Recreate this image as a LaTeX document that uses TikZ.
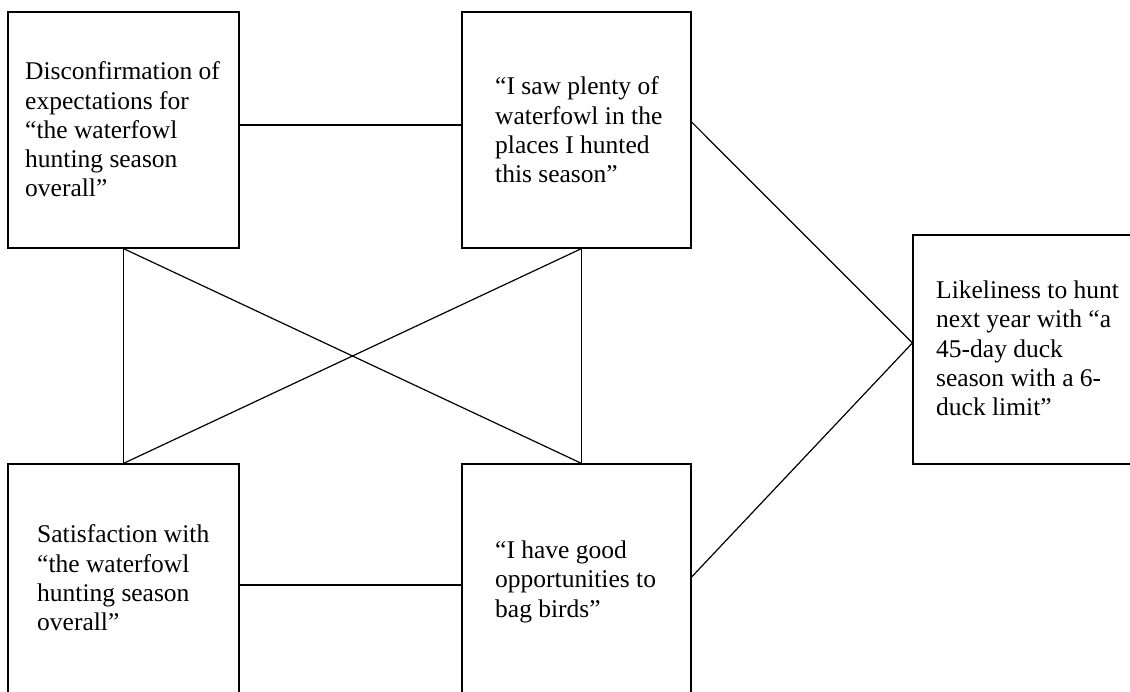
\documentclass[tikz,border=0pt]{standalone}
\usepackage{fontspec}
\setmainfont{Liberation Serif}
\usetikzlibrary{calc}
\begin{document}
\begin{tikzpicture}[x=1pt,y=-1pt,
  box/.style={draw,line width=1.2pt,minimum width=#1,inner sep=0pt},
  lbl/.style={anchor=north west,inner sep=0pt,align=left,font=\fontsize{25.5}{29.3}\selectfont},
  conn/.style={line width=1.2pt}]
\useasboundingbox (0,0) rectangle (1130,692);
\clip (0,0) rectangle (1130,692);
% boxes
\node[box=231pt,minimum height=236pt] (A) at (123.5,130) {};
\node[box=229pt,minimum height=236pt] (B) at (576.5,130) {};
\node[box=231pt,minimum height=242pt] (C) at (123.5,585) {};
\node[box=229pt,minimum height=242pt] (D) at (576.5,585) {};
\node[box=222pt,minimum height=229pt] (E) at (1024,349.5) {};
% texts
\node[lbl] (tA) at (25,61.6) {Disconfirmation of\\expectations for\\“the waterfowl\\hunting season\\overall”};
\node[lbl] (tB) at (495,76.6) {“I saw plenty of\\waterfowl in the\\places I hunted\\this season”};
\node[lbl] (tC) at (37,524.6) {Satisfaction with\\“the waterfowl\\hunting season\\overall”};
\node[lbl] (tD) at (495,540.6) {“I have good\\opportunities to\\bag birds”};
\node[lbl] (tE) at (936,280.6) {Likeliness to hunt\\next year with “a\\45-day duck\\season with a 6-\\duck limit”};
% connectors
\coordinate (Ae) at ([yshift=5pt]A.east);
\coordinate (Bw) at ([yshift=5pt]B.west);
\coordinate (Be) at ([yshift=8pt]B.east);
\coordinate (De) at ([yshift=8pt]D.east);
\coordinate (Ew) at ([yshift=6.5pt]E.west);
\coordinate (Bs) at ([xshift=5pt]B.south);
\coordinate (Dn) at ([xshift=5pt]D.north);
\draw[conn] (Ae) -- (Bw);
\draw[conn] (C.east) -- (D.west);
\draw[conn] (Be) -- (Ew);
\draw[conn] (De) -- (Ew);
\draw[conn] (A.south) -- (C.north);
\draw[conn] (Bs) -- (Dn);
\draw[conn] (A.south) -- (Dn);
\draw[conn] (Bs) -- (C.north);
\end{tikzpicture}
\end{document}
